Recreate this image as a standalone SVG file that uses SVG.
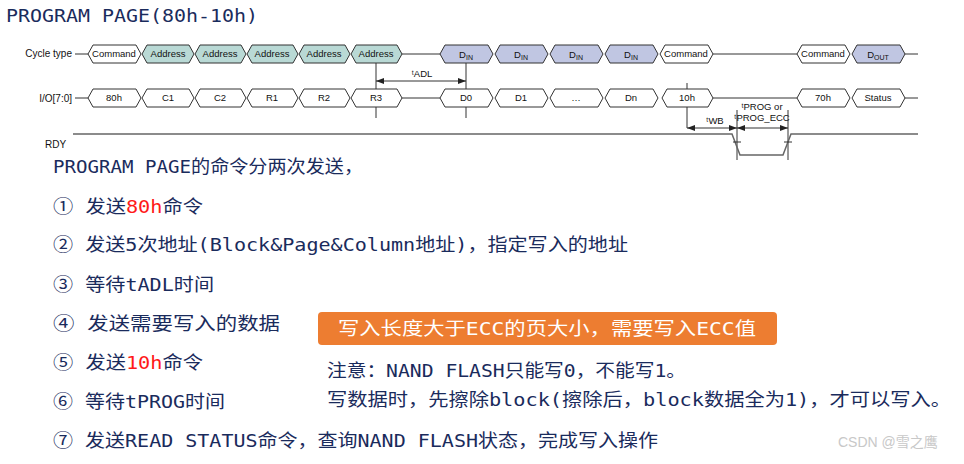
<svg xmlns="http://www.w3.org/2000/svg" width="964" height="464" viewBox="0 0 964 464">
<defs>
<style>
.h{stroke:#333;stroke-width:1;}
.w{fill:#fff}.a{fill:#b9d9d5}.p{fill:#c0c6e2}
.ln{stroke:#333;stroke-width:1;fill:none}
.c{font-family:"Liberation Sans",Arial,sans-serif;font-size:9.5px;fill:#111;text-anchor:middle}
.lb{font-family:"Liberation Sans",Arial,sans-serif;font-size:10px;fill:#111}
.t{font-family:"DejaVu Sans Mono","Noto Sans CJK SC",monospace;font-size:18px;fill:#1a2b5c}
.r{fill:#ff1a1a}
</style>
<marker id="ar" markerWidth="8" markerHeight="6" refX="8" refY="3" orient="auto-start-reverse" markerUnits="userSpaceOnUse"><path d="M0,0 L8,3 L0,6 Z" fill="#222"/></marker>
</defs>
<rect width="964" height="464" fill="#fff"/>
<text x="6" y="22" class="t" font-size="19" textLength="252" lengthAdjust="spacingAndGlyphs">PROGRAM PAGE(80h-10h)</text>

<g id="labels">
<text x="72" y="57" class="lb" text-anchor="end">Cycle type</text>
<text x="72" y="102" class="lb" text-anchor="end">I/O[7:0]</text>
<text x="45" y="148" class="lb">RDY</text>
</g>

<g id="connectors">
<path class="ln" d="M75,54H88 M402,54H440 M713,54H797 M905,54H918"/>
<path class="ln" d="M75,98H88 M402,98H440 M713,98H797 M905,98H918"/>
<path class="ln" d="M376,46V118 M466,46V118 M687,83V128 M737,110V160 M788,110V160"/>
<path class="ln" d="M376,81H466" marker-start="url(#ar)" marker-end="url(#ar)"/>
<path class="ln" d="M687,128H737" marker-start="url(#ar)" marker-end="url(#ar)"/>
<path class="ln" d="M737,128H788" marker-start="url(#ar)" marker-end="url(#ar)"/>
<path d="M73,134H732L740,155H783L791,134H918" fill="none" stroke="#666" stroke-width="1.5"/>
<path class="ln" d="M733,142H741 M784,142H792"/>
<text x="422" y="77" class="c">ᵗADL</text>
<text x="715" y="124" class="c">ᵗWB</text>
<text x="762" y="110" class="c">ᵗPROG or</text>
<text x="762" y="121" class="c">ᵗPROG_ECC</text>
</g>

<g id="cycle">
<path class="h w" d="M88,54L93,45H136L141,54L136,63H93Z"/><text x="114" y="57" class="c">Command</text>
<path class="h a" d="M142,54L147,45H189L194,54L189,63H147Z"/><text x="168" y="57" class="c">Address</text>
<path class="h a" d="M195,54L200,45H241L246,54L241,63H200Z"/><text x="220" y="57" class="c">Address</text>
<path class="h a" d="M247,54L252,45H293L298,54L293,63H252Z"/><text x="272" y="57" class="c">Address</text>
<path class="h a" d="M299,54L304,45H345L350,54L345,63H304Z"/><text x="324" y="57" class="c">Address</text>
<path class="h a" d="M351,54L356,45H397L402,54L397,63H356Z"/><text x="376" y="57" class="c">Address</text>
<path class="h p" d="M440,54L445,45H488L493,54L488,63H445Z"/><text x="466" y="58" class="c">D<tspan font-size="7" dy="2">IN</tspan></text>
<path class="h p" d="M495,54L500,45H543L548,54L543,63H500Z"/><text x="521" y="58" class="c">D<tspan font-size="7" dy="2">IN</tspan></text>
<path class="h p" d="M550,54L555,45H598L603,54L598,63H555Z"/><text x="576" y="58" class="c">D<tspan font-size="7" dy="2">IN</tspan></text>
<path class="h p" d="M605,54L610,45H653L658,54L653,63H610Z"/><text x="631" y="58" class="c">D<tspan font-size="7" dy="2">IN</tspan></text>
<path class="h w" d="M660,54L665,45H708L713,54L708,63H665Z"/><text x="686" y="57" class="c">Command</text>
<path class="h w" d="M797,54L802,45H845L850,54L845,63H802Z"/><text x="823" y="57" class="c">Command</text>
<path class="h p" d="M852,54L857,45H900L905,54L900,63H857Z"/><text x="878" y="58" class="c">D<tspan font-size="7" dy="2">OUT</tspan></text>
</g>

<g id="io">
<path class="h w" d="M88,98L93,89H136L141,98L136,107H93Z"/><text x="114" y="101" class="c">80h</text>
<path class="h w" d="M142,98L147,89H189L194,98L189,107H147Z"/><text x="168" y="101" class="c">C1</text>
<path class="h w" d="M195,98L200,89H241L246,98L241,107H200Z"/><text x="220" y="101" class="c">C2</text>
<path class="h w" d="M247,98L252,89H293L298,98L293,107H252Z"/><text x="272" y="101" class="c">R1</text>
<path class="h w" d="M299,98L304,89H345L350,98L345,107H304Z"/><text x="324" y="101" class="c">R2</text>
<path class="h w" d="M351,98L356,89H397L402,98L397,107H356Z"/><text x="376" y="101" class="c">R3</text>
<path class="h w" d="M440,98L445,89H488L493,98L488,107H445Z"/><text x="466" y="101" class="c">D0</text>
<path class="h w" d="M495,98L500,89H543L548,98L543,107H500Z"/><text x="521" y="101" class="c">D1</text>
<path class="h w" d="M550,98L555,89H598L603,98L598,107H555Z"/><text x="576" y="101" class="c">…</text>
<path class="h w" d="M605,98L610,89H653L658,98L653,107H610Z"/><text x="631" y="101" class="c">Dn</text>
<path class="h w" d="M662,98L667,89H708L713,98L708,107H667Z"/><text x="687" y="101" class="c">10h</text>
<path class="h w" d="M797,98L802,89H845L850,98L845,107H802Z"/><text x="823" y="101" class="c">70h</text>
<path class="h w" d="M852,98L857,89H900L905,98L900,107H857Z"/><text x="878" y="101" class="c">Status</text>
</g>

<g id="steps">
<text x="53" y="173" class="t" textLength="310" lengthAdjust="spacingAndGlyphs">PROGRAM PAGE的命令分两次发送，</text>
<text x="53" y="213" class="t" textLength="150" lengthAdjust="spacingAndGlyphs">① 发送<tspan class="r">80h</tspan>命令</text>
<text x="53" y="251" class="t" textLength="575" lengthAdjust="spacingAndGlyphs">② 发送5次地址(Block&amp;Page&amp;Column地址)，指定写入的地址</text>
<text x="53" y="291" class="t" textLength="161" lengthAdjust="spacingAndGlyphs">③ 等待tADL时间</text>
<text x="53" y="330" class="t" textLength="227" lengthAdjust="spacingAndGlyphs">④ 发送需要写入的数据</text>
<text x="53" y="369" class="t" textLength="150" lengthAdjust="spacingAndGlyphs">⑤ 发送<tspan class="r">10h</tspan>命令</text>
<text x="53" y="408" class="t" textLength="172" lengthAdjust="spacingAndGlyphs">⑥ 等待tPROG时间</text>
<text x="53" y="447" class="t" textLength="605" lengthAdjust="spacingAndGlyphs">⑦ 发送READ STATUS命令，查询NAND FLASH状态，完成写入操作</text>
</g>

<g id="note">
<rect x="318" y="312" width="459" height="33" rx="4" fill="#ed7d31"/>
<text x="547" y="335" class="t" fill="#fff" style="fill:#fff" text-anchor="middle" font-size="18" textLength="418" lengthAdjust="spacingAndGlyphs">写入长度大于ECC的页大小，需要写入ECC值</text>
<text x="327" y="377" class="t" textLength="359" lengthAdjust="spacingAndGlyphs">注意：NAND FLASH只能写0，不能写1。</text>
<text x="327" y="406" class="t" textLength="624" lengthAdjust="spacingAndGlyphs">写数据时，先擦除block(擦除后，block数据全为1)，才可以写入。</text>
</g>
<text x="838" y="447" font-family="'Liberation Sans','Noto Sans CJK SC',sans-serif" font-size="14" fill="#c8c8c8">CSDN @雪之鹰</text>
</svg>
